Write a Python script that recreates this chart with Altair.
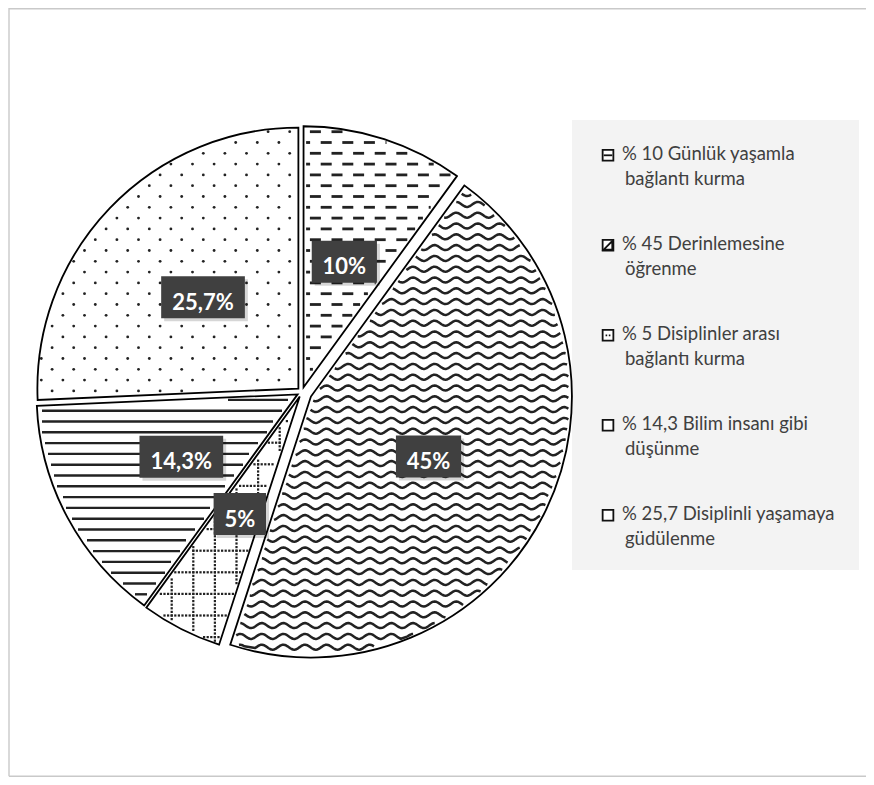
import math
import altair as alt
import pandas as pd

# ---------------- data ----------------
slice_labels = ["10%", "45%", "5%", "14,3%", "25,7%"]
slice_values = [10, 45, 5, 14.3, 25.7]
legend_line1 = ["% 10 Günlük yaşamla", "% 45 Derinlemesine", "% 5 Disiplinler arası",
                "% 14,3 Bilim insanı gibi", "% 25,7 Disiplinli yaşamaya"]
legend_line2 = ["bağlantı kurma", "öğrenme", "bağlantı kurma", "düşünme", "güdülenme"]

# ---------------- style / layout ----------------
W, H = 858, 769
CX, CY, R = 294.0, 384.0, 261.0
EXPLODE = [5, 10, 5, 5, 5]
LABEL_R = 132.0
INK = "#222222"
TILE = 21.6
HALF = 10.8
XMIN, XMAX = CX - R - 14, CX + R + 14
YMIN, YMAX = CY - R - 14, CY + R + 14
TWO_PI = 2 * math.pi

total = float(sum(slice_values))
recs = []
acc = 0.0
for k, (lab, v) in enumerate(zip(slice_labels, slice_values)):
    c0, c1 = acc, acc + v
    acc = c1
    a0, a1 = c0 / total * TWO_PI, c1 / total * TWO_PI
    mid = (a0 + a1) / 2
    cx = CX + EXPLODE[k] * math.sin(mid)
    cy = CY - EXPLODE[k] * math.cos(mid)
    lx = cx + LABEL_R * math.sin(mid)
    ly = cy - LABEL_R * math.cos(mid)
    ndig = sum(ch.isdigit() for ch in lab)
    ncom = lab.count(",")
    hw = (12.8 * ndig + 5.7 * ncom + 17.6) / 2 + 11
    recs.append(dict(k=k, label=lab, value=v, c0=c0, c1=c1, a0=a0, a1=a1, cx=cx, cy=cy,
                     lx=lx, ly=ly, bx0=lx - hw, bx1=lx + hw, by0=ly - 21, by1=ly + 21,
                     ty=ly + 12.5))
slices = pd.DataFrame(recs)


def XY(xf="px", yf="py"):
    return dict(x=alt.X(f"{xf}:Q", scale=None, axis=None),
                y=alt.Y(f"{yf}:Q", scale=None, axis=None))


def clip_to_slice(ch, k, m):
    s = recs[k]
    a0, a1 = s["a0"], s["a1"]
    ch = ch.transform_calculate(dx=f"datum.px - ({s['cx']:.4f})", dy=f"datum.py - ({s['cy']:.4f})")
    ch = ch.transform_calculate(r="sqrt(datum.dx*datum.dx + datum.dy*datum.dy)",
                                th="(atan2(datum.dx, -datum.dy) + 2*PI) % (2*PI)")
    cond = (f"datum.r < {R - m} && datum.th > {a0:.6f} && datum.th < {a1:.6f}"
            f" && (datum.th - {a0:.6f} > PI/2 || datum.r*sin(datum.th - {a0:.6f}) > {m})"
            f" && ({a1:.6f} - datum.th > PI/2 || datum.r*sin({a1:.6f} - datum.th) > {m})")
    return ch.transform_filter(cond)


def row_lines(k, y_ph, gap, step, amp, period, x_ph, width, m):
    ncol = math.ceil((XMAX - XMIN) / step) + 1
    kr0 = math.floor((YMIN - y_ph) / gap)
    ny = math.ceil((YMAX - YMIN) / gap) + 2
    ch = alt.Chart(alt.sequence(0, ncol * ny, as_="i")).transform_calculate(
        row=f"floor(datum.i / {ncol}) + ({kr0})",
        px=f"{XMIN} + (datum.i % {ncol})*{step}",
    )
    ch = ch.transform_calculate(
        py=f"{y_ph} + datum.row*{gap} + {amp}*sin(2*PI*(datum.px - ({x_ph}))/{period})")
    ch = clip_to_slice(ch, k, m)
    return ch.mark_line(stroke=INK, strokeWidth=width, strokeJoin="round", strokeCap="butt").encode(
        detail="row:N", order="px:Q", **XY())


def lattice_seq(x_ph, y_ph, nseg):
    kc0 = math.floor((XMIN - x_ph) / TILE) - 1
    nx = math.ceil((XMAX - XMIN) / TILE) + 3
    kr0 = math.floor((YMIN - y_ph) / HALF)
    ny = math.ceil((YMAX - YMIN) / HALF) + 2
    ch = alt.Chart(alt.sequence(0, nx * ny * nseg, as_="i")).transform_calculate(
        d=f"floor(datum.i / {nseg})", j=f"datum.i % {nseg}")
    ch = ch.transform_calculate(kc=f"datum.d % {nx} + ({kc0})",
                                kr=f"floor(datum.d / {nx}) + ({kr0})")
    return ch


def dashes(k, x_ph, y_ph, length, nseg, width, m):
    ch = lattice_seq(x_ph, y_ph, nseg)
    ch = ch.transform_calculate(
        px=f"{x_ph} + datum.kc*{TILE} + ((datum.kr % 2 + 2) % 2)*{HALF} + (datum.j/{nseg - 1} - 0.5)*{length}",
        py=f"{y_ph} + datum.kr*{HALF}")
    ch = clip_to_slice(ch, k, m)
    return ch.mark_line(stroke=INK, strokeWidth=width, strokeCap="butt").encode(
        detail="d:N", order="px:Q", **XY())


def dots(k, x_ph, y_ph, size, m):
    ch = lattice_seq(x_ph, y_ph, 1)
    ch = ch.transform_calculate(
        px=f"{x_ph} + datum.kc*{TILE} + ((datum.kr % 2 + 2) % 2)*{HALF}",
        py=f"{y_ph} + datum.kr*{HALF}")
    ch = clip_to_slice(ch, k, m)
    return ch.mark_circle(size=size, color=INK, opacity=1).encode(**XY())


def grid_dots(k, x_ph, y_ph, step, size, m, horizontal):
    if horizontal:
        along_lo, along_hi, along_ph = XMIN, XMAX, x_ph
        across_lo, across_hi, across_ph = YMIN, YMAX, y_ph
    else:
        along_lo, along_hi, along_ph = YMIN, YMAX, y_ph
        across_lo, across_hi, across_ph = XMIN, XMAX, x_ph
    kd0 = math.floor((along_lo - along_ph) / step)
    nd = math.ceil((along_hi - along_lo) / step) + 2
    kl0 = math.floor((across_lo - across_ph) / TILE)
    nl = math.ceil((across_hi - across_lo) / TILE) + 2
    ch = alt.Chart(alt.sequence(0, nd * nl, as_="i")).transform_calculate(
        along=f"{along_ph} + (datum.i % {nd} + ({kd0}))*{step}",
        across=f"{across_ph} + (floor(datum.i / {nd}) + ({kl0}))*{TILE}")
    if horizontal:
        ch = ch.transform_calculate(px="datum.along", py="datum.across")
    else:
        ch = ch.transform_calculate(px="datum.across", py="datum.along")
    ch = clip_to_slice(ch, k, m)
    return ch.mark_square(size=size, color=INK, opacity=1).encode(**XY())


one = pd.DataFrame({"a": [0]})
FRAME = "#c9c9c9"

frame_left = alt.Chart(one).mark_rule(stroke=FRAME, strokeWidth=1.4).encode(
    x=alt.value(1), y=alt.value(0), y2=alt.value(768.3))
frame_top = alt.Chart(one).mark_rule(stroke=FRAME, strokeWidth=1.4).encode(
    x=alt.value(1), x2=alt.value(W), y=alt.value(0.7))
frame_bottom = alt.Chart(one).mark_rule(stroke=FRAME, strokeWidth=1.4).encode(
    x=alt.value(1), x2=alt.value(W), y=alt.value(768.3))

legend_bg = alt.Chart(one).mark_rect(fill="#f3f3f3").encode(
    x=alt.value(564), x2=alt.value(851), y=alt.value(112), y2=alt.value(562))

pie = alt.Chart(slices).mark_arc(outerRadius=R, fill="white", stroke="black", strokeWidth=1.8).encode(
    theta=alt.Theta("c0:Q", scale=alt.Scale(domain=[0, total], range=[0, TWO_PI]), stack=None),
    theta2="c1:Q",
    **XY("cx", "cy"),
)

pat_dash = dashes(0, 329.0, 145.3, 11.0, 12, 2.8, 2.4)
pat_wave = row_lines(1, 2.0, HALF, 1.35, 2.5, TILE, 0.0, 2.5, 2.4)
pat_grid_h = grid_dots(2, 163.7, 564.3, 3.6, 5, 2.0, True)
pat_grid_v = grid_dots(2, 163.7, 564.3, 3.6, 5, 2.0, False)
pat_hline = row_lines(3, 402.7, HALF, 3.0, 0.0, TILE, 0.0, 2.4, 2.4)
pat_dots = dots(4, 195.3, 145.3, 8, 2.0)

shadow = alt.Chart(slices).transform_calculate(
    sx0="datum.bx0 + 3", sx1="datum.bx1 + 3", sy0="datum.by0 + 3", sy1="datum.by1 + 3"
).mark_rect(fill="#000000", opacity=0.16).encode(
    x=alt.X("sx0:Q", scale=None, axis=None), x2="sx1:Q",
    y=alt.Y("sy0:Q", scale=None, axis=None), y2="sy1:Q")

boxes = alt.Chart(slices).mark_rect(fill="#404040").encode(
    x=alt.X("bx0:Q", scale=None, axis=None), x2="bx1:Q",
    y=alt.Y("by0:Q", scale=None, axis=None), y2="by1:Q")

texts = alt.Chart(slices).mark_text(font="Lato", fontWeight="bold", fontSize=22, color="white",
                                    align="center", baseline="alphabetic").encode(
    text="label:N", **XY("lx", "ty"))

legend_df = pd.DataFrame({"idx": list(range(len(legend_line1))), "line1": legend_line1,
                          "line2": legend_line2})
leg = alt.Chart(legend_df).transform_calculate(
    sy="147.3 + 90*datum.idx", b1="152 + 90*datum.idx", b2="177 + 90*datum.idx")

leg_sym = leg.mark_point(shape="square", size=115, filled=False, fill="white", stroke="#111111",
                         strokeWidth=1.8, opacity=1).encode(
    x=alt.value(600), y=alt.Y("sy:Q", scale=None, axis=None))
leg_inner = leg.mark_point(size=115, filled=False, stroke="#111111", strokeWidth=1.8, opacity=1).encode(
    x=alt.value(600), y=alt.Y("sy:Q", scale=None, axis=None),
    shape=alt.Shape("idx:N", legend=None, scale=alt.Scale(
        domain=[0, 1, 2, 3, 4],
        range=["M-0.8,0H0.8", "M-0.8,0.8L0.8,-0.8L0.8,0.8Z", "M-0.45,0H-0.15M0.15,0H0.45",
               "M0,0L0,0", "M0,0L0,0"])))
leg_t1 = leg.mark_text(align="left", baseline="alphabetic", font="Lato", fontSize=18.5,
                       color="#404040").encode(
    text="line1:N", x=alt.value(614), y=alt.Y("b1:Q", scale=None, axis=None))
leg_t2 = leg.mark_text(align="left", baseline="alphabetic", font="Lato", fontSize=18.5,
                       color="#404040").encode(
    text="line2:N", x=alt.value(617), y=alt.Y("b2:Q", scale=None, axis=None))

chart = alt.layer(
    frame_left, frame_top, frame_bottom, legend_bg, pie,
    pat_dash, pat_wave, pat_grid_h, pat_grid_v, pat_hline, pat_dots,
    shadow, boxes, texts,
    leg_sym, leg_inner, leg_t1, leg_t2,
).properties(
    width=W, height=H, autosize=alt.AutoSizeParams(type="none"), padding=0
).configure_view(stroke="transparent", fill="white")

chart.save("out.html", embed_options={"renderer": "svg", "actions": False})
